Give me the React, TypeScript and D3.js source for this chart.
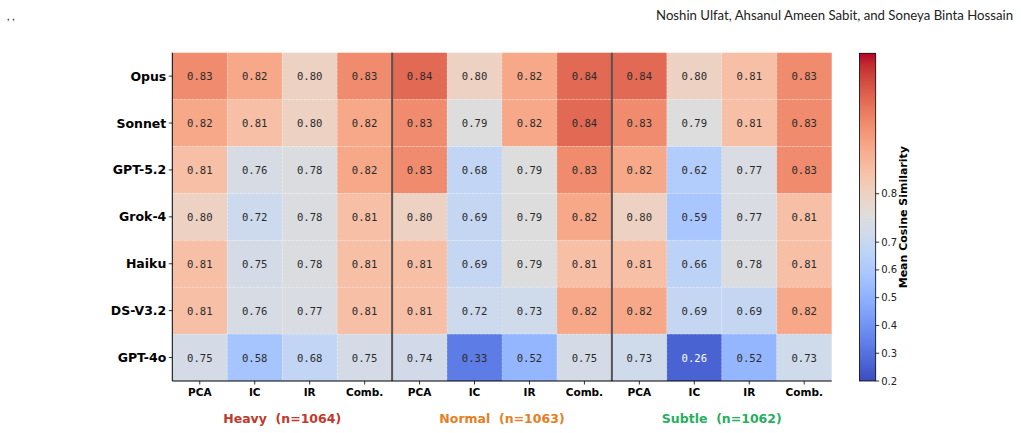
import React from "react";
import * as d3 from "d3";

const models = ["Opus", "Sonnet", "GPT-5.2", "Grok-4", "Haiku", "DS-V3.2", "GPT-4o"];
const methods = ["PCA", "IC", "IR", "Comb."];
const groups = ["Heavy  (n=1064)", "Normal  (n=1063)", "Subtle  (n=1062)"];
const groupColors = ["#c0392b", "#e67e22", "#27ae60"];
const values: number[][] = [
  [0.83, 0.82, 0.80, 0.83, 0.84, 0.80, 0.82, 0.84, 0.84, 0.80, 0.81, 0.83],
  [0.82, 0.81, 0.80, 0.82, 0.83, 0.79, 0.82, 0.84, 0.83, 0.79, 0.81, 0.83],
  [0.81, 0.76, 0.78, 0.82, 0.83, 0.68, 0.79, 0.83, 0.82, 0.62, 0.77, 0.83],
  [0.80, 0.72, 0.78, 0.81, 0.80, 0.69, 0.79, 0.82, 0.80, 0.59, 0.77, 0.81],
  [0.81, 0.75, 0.78, 0.81, 0.81, 0.69, 0.79, 0.81, 0.81, 0.66, 0.78, 0.81],
  [0.81, 0.76, 0.77, 0.81, 0.81, 0.72, 0.73, 0.82, 0.82, 0.69, 0.69, 0.82],
  [0.75, 0.58, 0.68, 0.75, 0.74, 0.33, 0.52, 0.75, 0.73, 0.26, 0.52, 0.73],
];
const cbTicks = [0.2, 0.3, 0.4, 0.5, 0.6, 0.7, 0.8];
const vmin = 0.2, vcenter = 0.79, vmax = 0.86;

const coolwarm = [
  [59,76,192],[68,90,204],[77,104,215],[87,117,225],[98,130,234],[108,142,241],[119,154,247],[130,165,251],
  [141,176,254],[152,185,255],[163,194,255],[174,201,253],[184,208,249],[194,213,244],[204,217,238],[213,219,230],
  [221,221,221],[229,216,209],[236,211,197],[241,204,185],[245,196,173],[247,187,160],[247,177,148],[247,166,135],
  [244,154,123],[241,141,111],[236,127,99],[229,112,88],[222,96,77],[213,80,66],[203,62,56],[192,40,47],[180,4,38],
];
const cmap = d3.scaleLinear<string>()
  .domain(coolwarm.map((_, i) => i / (coolwarm.length - 1)))
  .range(coolwarm.map(c => `rgb(${c[0]},${c[1]},${c[2]})`))
  .interpolate(d3.interpolateRgb)
  .clamp(true);
const norm = d3.scaleLinear().domain([vmin, vcenter, vmax]).range([0, 0.5, 1]).clamp(true);

export default function App() {
  const W = 1021, H = 433;
  const left = 172.3, right = 831.7, top = 52.7, bottom = 381;
  const cols = d3.range(12);
  const x = d3.scaleBand<number>().domain(cols).range([left, right]);
  const y = d3.scaleBand<string>().domain(models).range([top, bottom]);
  const cbX = 859.5, cbW = 16.2, cbTop = 53.3, cbBot = 381;
  const cbY = d3.scaleLinear().domain([vmin, vcenter, vmax]).range([cbBot, (cbTop + cbBot) / 2, cbTop]);
  const stops = d3.range(0, 1.0001, 1 / 64);

  return (
    <svg width={W} height={H} style={{ position: "absolute", left: 0, top: 0, background: "#fff" }}>
      <defs>
        <linearGradient id="cb" x1="0" y1="1" x2="0" y2="0">
          {stops.map((t, i) => <stop key={i} offset={t} stopColor={cmap(t)} />)}
        </linearGradient>
      </defs>
      <text x={7} y={20} fontFamily="Lato, sans-serif" fontSize={11} fill="#222">, ,</text>
      <text x={1013} y={20} textAnchor="end" fontFamily="Lato, sans-serif" fontSize={13.2} fill="#222">
        Noshin Ulfat, Ahsanul Ameen Sabit, and Soneya Binta Hossain
      </text>
      {values.map((row, ri) => row.map((v, ci) => (
        <g key={`${ri}-${ci}`}>
          <rect x={x(ci)!} y={y(models[ri])!} width={x.bandwidth()} height={y.bandwidth()} fill={cmap(norm(v))} />
          <text x={x(ci)! + x.bandwidth() / 2} y={y(models[ri])! + y.bandwidth() / 2 + 4}
            textAnchor="middle" fontFamily="'DejaVu Sans Mono', monospace" fontSize={10.6}
            fill={v < 0.3 ? "#fff" : "#2b2b2b"}>{v.toFixed(2)}</text>
        </g>
      )))}
      {d3.range(1, 12).map(i => (
        <line key={"gv" + i} x1={x(i)!} x2={x(i)!} y1={top} y2={bottom} stroke="#fff" strokeOpacity={0.5} strokeWidth={0.6} strokeDasharray="2,2" />
      ))}
      {d3.range(1, 7).map(i => (
        <line key={"gh" + i} x1={left} x2={right} y1={y(models[i])!} y2={y(models[i])!} stroke="#fff" strokeOpacity={0.5} strokeWidth={0.6} strokeDasharray="2,2" />
      ))}
      {[4, 8].map(i => (
        <line key={"sep" + i} x1={x(i)!} x2={x(i)!} y1={top} y2={bottom} stroke="#555" strokeWidth={2} />
      ))}
      <line x1={left} x2={left} y1={top} y2={bottom} stroke="#000" strokeWidth={1} />
      <line x1={left} x2={right} y1={bottom} y2={bottom} stroke="#000" strokeWidth={1} />
      {models.map(m => (
        <g key={m}>
          <line x1={left - 3.5} x2={left} y1={y(m)! + y.bandwidth() / 2} y2={y(m)! + y.bandwidth() / 2} stroke="#000" strokeWidth={0.8} />
          <text x={left - 6} y={y(m)! + y.bandwidth() / 2 + 4.5} textAnchor="end" fontFamily="'DejaVu Sans', sans-serif" fontWeight="bold" fontSize={12.5} fill="#000">{m}</text>
        </g>
      ))}
      {cols.map(ci => (
        <g key={"c" + ci}>
          <line x1={x(ci)! + x.bandwidth() / 2} x2={x(ci)! + x.bandwidth() / 2} y1={bottom} y2={bottom + 3.5} stroke="#000" strokeWidth={0.8} />
          <text x={x(ci)! + x.bandwidth() / 2} y={bottom + 15} textAnchor="middle" fontFamily="'DejaVu Sans', sans-serif" fontWeight="bold" fontSize={10.5} fill="#000">{methods[ci % 4]}</text>
        </g>
      ))}
      {groups.map((g, gi) => (
        <text key={g} x={(x(gi * 4)! + x(gi * 4 + 3)! + x.bandwidth()) / 2} y={423} textAnchor="middle" fontFamily="'DejaVu Sans', sans-serif" fontWeight="bold" fontSize={12.5} fill={groupColors[gi]} style={{ whiteSpace: "pre" }}>{g}</text>
      ))}
      <rect x={cbX} y={cbTop} width={cbW} height={cbBot - cbTop} fill="url(#cb)" stroke="#000" strokeWidth={0.8} />
      {cbTicks.map(t => (
        <g key={"t" + t}>
          <line x1={cbX + cbW} x2={cbX + cbW + 3.5} y1={cbY(t)} y2={cbY(t)} stroke="#000" strokeWidth={0.8} />
          <text x={cbX + cbW + 5.5} y={cbY(t) + 3.5} fontFamily="'DejaVu Sans', sans-serif" fontSize={10} fill="#222">{t.toFixed(1)}</text>
        </g>
      ))}
      <text transform={`translate(907,${(cbTop + cbBot) / 2}) rotate(-90)`} textAnchor="middle" fontFamily="'DejaVu Sans', sans-serif" fontWeight="bold" fontSize={11} fill="#000">Mean Cosine Similarity</text>
    </svg>
  );
}
